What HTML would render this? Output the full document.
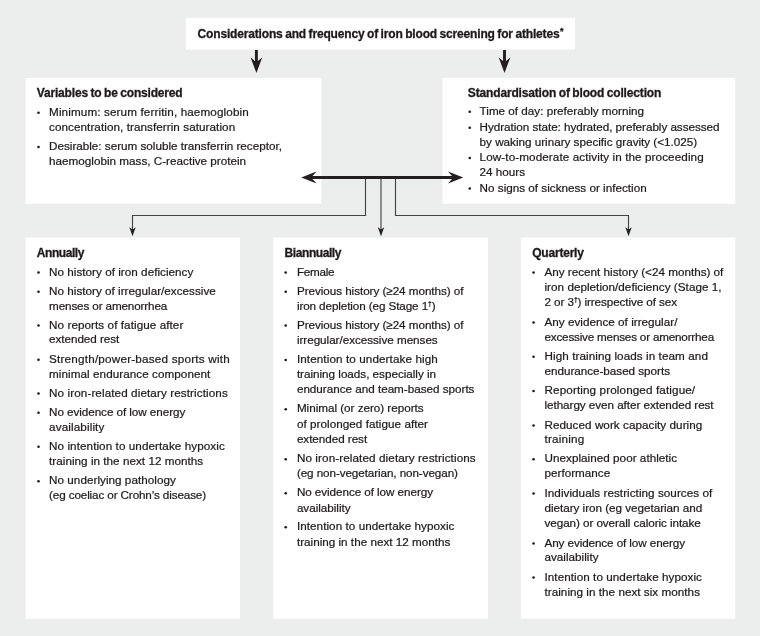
<!DOCTYPE html>
<html lang="en">
<head>
<meta charset="utf-8">
<title>Considerations and frequency of iron blood screening for athletes</title>
<style>
html,body{margin:0;padding:0}
body{width:760px;height:636px;background:#eceeed;position:relative;overflow:hidden;font-family:"Liberation Sans",sans-serif;color:#1d1a1b}
.t{-webkit-text-stroke:0.22px #1d1a1b;position:absolute;white-space:pre;line-height:16px;font-size:11.7px;margin:0}
.b{font-weight:700;font-size:12.0px;word-spacing:-0.6px;-webkit-text-stroke-width:0.3px}
.as{line-height:0;font-size:9px;vertical-align:3.4px;letter-spacing:0;margin-left:0.6px}
.dg{line-height:0;font-weight:700;font-size:6.5px;vertical-align:3.7px;letter-spacing:0}
svg{position:absolute;left:0;top:0}
#tx{position:absolute;left:0;top:0;width:760px;height:636px;will-change:transform}
</style>
</head>
<body>
<svg width="760" height="636" viewBox="0 0 760 636">
<g fill="#fff"><rect x="185.8" y="17.9" width="389.20" height="31.70"/><rect x="25.7" y="77.8" width="295.70" height="126.00"/><rect x="442.5" y="77.8" width="292.70" height="126.00"/><rect x="25.7" y="237.6" width="214.30" height="381.20"/><rect x="273.2" y="237.6" width="214.80" height="381.20"/><rect x="521" y="237.6" width="214.20" height="381.20"/></g>
<g fill="none" stroke="#444" stroke-width="1.15">
<path d="M365.5 178 V215.5 H132.5 V230"/>
<path d="M381 178 V230"/>
<path d="M395.5 178 V215.5 H628.5 V230"/>
</g>
<g fill="#262324" stroke="none">
<path d="M132.5 236.3 L129.3 227.2 L132.5 229.4 L135.7 227.2 Z"/>
<path d="M381 236.3 L377.8 227.2 L381 229.4 L384.2 227.2 Z"/>
<path d="M628.5 236.3 L625.3 227.2 L628.5 229.4 L631.7 227.2 Z"/>
</g>
<g fill="#231f20" stroke="none">
<!-- top down arrows -->
<path d="M254.95 50 H257.85 V61 L262.2 57.5 L256.4 73 L250.6 57.5 L254.95 61 Z"/>
<path d="M503.05 50 H505.95 V61 L510.3 57.5 L504.5 73 L498.7 57.5 L503.05 61 Z"/>
<!-- double headed horizontal arrow -->
<path d="M301.25 177.5 L316.5 171.5 L312.5 175.9 H452 L448 171.5 L463.25 177.5 L448 183.5 L452 179.0 H312.5 L316.5 183.5 Z"/>
</g>
<g fill="#1d1a1b"><circle cx="38.50" cy="112.70" r="1.3"/><circle cx="38.50" cy="146.95" r="1.3"/><circle cx="469.75" cy="111.70" r="1.3"/><circle cx="469.75" cy="127.70" r="1.3"/><circle cx="469.75" cy="157.95" r="1.3"/><circle cx="469.75" cy="188.45" r="1.3"/><circle cx="38.50" cy="272.45" r="1.3"/><circle cx="38.50" cy="291.70" r="1.3"/><circle cx="38.50" cy="325.45" r="1.3"/><circle cx="38.50" cy="359.70" r="1.3"/><circle cx="38.50" cy="393.45" r="1.3"/><circle cx="38.50" cy="412.70" r="1.3"/><circle cx="38.50" cy="446.70" r="1.3"/><circle cx="38.50" cy="481.20" r="1.3"/><circle cx="285.70" cy="272.45" r="1.3"/><circle cx="285.70" cy="291.70" r="1.3"/><circle cx="285.70" cy="325.45" r="1.3"/><circle cx="285.70" cy="359.95" r="1.3"/><circle cx="285.70" cy="409.20" r="1.3"/><circle cx="285.70" cy="459.20" r="1.3"/><circle cx="285.70" cy="493.20" r="1.3"/><circle cx="285.70" cy="527.20" r="1.3"/><circle cx="533.55" cy="272.45" r="1.3"/><circle cx="533.55" cy="322.45" r="1.3"/><circle cx="533.55" cy="356.70" r="1.3"/><circle cx="533.55" cy="390.95" r="1.3"/><circle cx="533.55" cy="425.45" r="1.3"/><circle cx="533.55" cy="459.20" r="1.3"/><circle cx="533.55" cy="493.45" r="1.3"/><circle cx="533.55" cy="543.45" r="1.3"/><circle cx="533.55" cy="577.45" r="1.3"/></g>
</svg>
<div id="tx">
<div class="t b" style="left:197.60px;top:25.84px;letter-spacing:-0.165px">Considerations and frequency of iron blood screening for athletes<span class="as">*</span></div>
<div class="t b" style="left:36.75px;top:84.59px;letter-spacing:-0.173px">Variables to be considered</div>
<div class="t" style="left:49.05px;top:103.95px;letter-spacing:0.120px">Minimum: serum ferritin, haemoglobin</div>
<div class="t" style="left:49.05px;top:119.20px;letter-spacing:0.062px">concentration, transferrin saturation</div>
<div class="t" style="left:49.05px;top:138.20px;letter-spacing:-0.008px">Desirable: serum soluble transferrin receptor,</div>
<div class="t" style="left:49.05px;top:153.20px;letter-spacing:0.007px">haemoglobin mass, C-reactive protein</div>
<div class="t b" style="left:467.85px;top:84.59px;letter-spacing:-0.159px">Standardisation of blood collection</div>
<div class="t" style="left:479.60px;top:102.95px;letter-spacing:-0.004px">Time of day: preferably morning</div>
<div class="t" style="left:479.60px;top:118.95px;letter-spacing:-0.039px">Hydration state: hydrated, preferably assessed</div>
<div class="t" style="left:479.60px;top:133.70px;letter-spacing:-0.009px">by waking urinary specific gravity (&lt;1.025)</div>
<div class="t" style="left:479.60px;top:149.20px;letter-spacing:0.094px">Low-to-moderate activity in the proceeding</div>
<div class="t" style="left:479.60px;top:164.20px;letter-spacing:0.002px">24 hours</div>
<div class="t" style="left:479.60px;top:179.70px;letter-spacing:0.004px">No signs of sickness or infection</div>
<div class="t b" style="left:36.75px;top:244.59px;letter-spacing:-0.430px">Annually</div>
<div class="t" style="left:49.05px;top:263.70px;letter-spacing:0.025px">No history of iron deficiency</div>
<div class="t" style="left:49.05px;top:282.95px;letter-spacing:0.013px">No history of irregular/excessive</div>
<div class="t" style="left:49.05px;top:297.70px;letter-spacing:-0.134px">menses or amenorrhea</div>
<div class="t" style="left:49.05px;top:316.70px;letter-spacing:0.066px">No reports of fatigue after</div>
<div class="t" style="left:49.05px;top:331.45px;letter-spacing:-0.044px">extended rest</div>
<div class="t" style="left:49.05px;top:350.95px;letter-spacing:0.210px">Strength/power-based sports with</div>
<div class="t" style="left:49.05px;top:366.45px;letter-spacing:0.057px">minimal endurance component</div>
<div class="t" style="left:49.05px;top:384.70px;letter-spacing:0.095px">No iron-related dietary restrictions</div>
<div class="t" style="left:49.05px;top:403.95px;letter-spacing:-0.062px">No evidence of low energy</div>
<div class="t" style="left:49.05px;top:419.20px;letter-spacing:0.125px">availability</div>
<div class="t" style="left:49.05px;top:437.95px;letter-spacing:0.070px">No intention to undertake hypoxic</div>
<div class="t" style="left:49.05px;top:453.20px;letter-spacing:0.028px">training in the next 12 months</div>
<div class="t" style="left:49.05px;top:472.45px;letter-spacing:0.032px">No underlying pathology</div>
<div class="t" style="left:49.05px;top:487.45px;letter-spacing:-0.127px">(eg coeliac or Crohn’s disease)</div>
<div class="t b" style="left:284.60px;top:244.59px;letter-spacing:-0.426px">Biannually</div>
<div class="t" style="left:296.90px;top:263.70px;letter-spacing:-0.282px">Female</div>
<div class="t" style="left:296.90px;top:282.95px;letter-spacing:-0.049px">Previous history (≥24 months) of</div>
<div class="t" style="left:296.90px;top:297.95px;letter-spacing:-0.104px">iron depletion (eg Stage 1<span class="dg">†</span>)</div>
<div class="t" style="left:296.90px;top:316.70px;letter-spacing:-0.049px">Previous history (≥24 months) of</div>
<div class="t" style="left:296.90px;top:331.70px;letter-spacing:-0.032px">irregular/excessive menses</div>
<div class="t" style="left:296.90px;top:351.20px;letter-spacing:0.095px">Intention to undertake high</div>
<div class="t" style="left:296.90px;top:366.45px;letter-spacing:-0.018px">training loads, especially in</div>
<div class="t" style="left:296.90px;top:381.45px;letter-spacing:-0.015px">endurance and team-based sports</div>
<div class="t" style="left:296.90px;top:400.45px;letter-spacing:-0.024px">Minimal (or zero) reports</div>
<div class="t" style="left:296.90px;top:415.95px;letter-spacing:0.045px">of prolonged fatigue after</div>
<div class="t" style="left:296.90px;top:431.20px;letter-spacing:-0.048px">extended rest</div>
<div class="t" style="left:296.90px;top:450.45px;letter-spacing:0.097px">No iron-related dietary restrictions</div>
<div class="t" style="left:296.90px;top:465.45px;letter-spacing:-0.093px">(eg non-vegetarian, non-vegan)</div>
<div class="t" style="left:296.90px;top:484.45px;letter-spacing:-0.068px">No evidence of low energy</div>
<div class="t" style="left:296.90px;top:499.70px;letter-spacing:-0.027px">availability</div>
<div class="t" style="left:296.90px;top:518.45px;letter-spacing:0.056px">Intention to undertake hypoxic</div>
<div class="t" style="left:296.90px;top:534.20px;letter-spacing:0.005px">training in the next 12 months</div>
<div class="t b" style="left:532.20px;top:244.59px;letter-spacing:-0.202px">Quarterly</div>
<div class="t" style="left:544.50px;top:263.70px;letter-spacing:-0.003px">Any recent history (&lt;24 months) of</div>
<div class="t" style="left:544.50px;top:279.20px;letter-spacing:0.028px">iron depletion/deficiency (Stage 1,</div>
<div class="t" style="left:544.50px;top:294.20px;letter-spacing:-0.087px">2 or 3<span class="dg">†</span>) irrespective of sex</div>
<div class="t" style="left:544.50px;top:313.70px;letter-spacing:0.014px">Any evidence of irregular/</div>
<div class="t" style="left:544.50px;top:328.70px;letter-spacing:-0.198px">excessive menses or amenorrhea</div>
<div class="t" style="left:544.50px;top:347.95px;letter-spacing:0.075px">High training loads in team and</div>
<div class="t" style="left:544.50px;top:363.45px;letter-spacing:-0.026px">endurance-based sports</div>
<div class="t" style="left:544.50px;top:382.20px;letter-spacing:0.115px">Reporting prolonged fatigue/</div>
<div class="t" style="left:544.50px;top:397.20px;letter-spacing:-0.055px">lethargy even after extended rest</div>
<div class="t" style="left:544.50px;top:416.70px;letter-spacing:0.044px">Reduced work capacity during</div>
<div class="t" style="left:544.50px;top:431.20px;letter-spacing:0.212px">training</div>
<div class="t" style="left:544.50px;top:450.45px;letter-spacing:0.029px">Unexplained poor athletic</div>
<div class="t" style="left:544.50px;top:465.45px;letter-spacing:0.008px">performance</div>
<div class="t" style="left:544.50px;top:484.70px;letter-spacing:0.044px">Individuals restricting sources of</div>
<div class="t" style="left:544.50px;top:500.20px;letter-spacing:-0.029px">dietary iron (eg vegetarian and</div>
<div class="t" style="left:544.50px;top:515.45px;letter-spacing:-0.071px">vegan) or overall caloric intake</div>
<div class="t" style="left:544.50px;top:534.70px;letter-spacing:-0.098px">Any evidence of low energy</div>
<div class="t" style="left:544.50px;top:549.45px;letter-spacing:0.009px">availability</div>
<div class="t" style="left:544.50px;top:568.70px;letter-spacing:0.052px">Intention to undertake hypoxic</div>
<div class="t" style="left:544.50px;top:584.20px;letter-spacing:0.029px">training in the next six months</div>
</div>
</body>
</html>
